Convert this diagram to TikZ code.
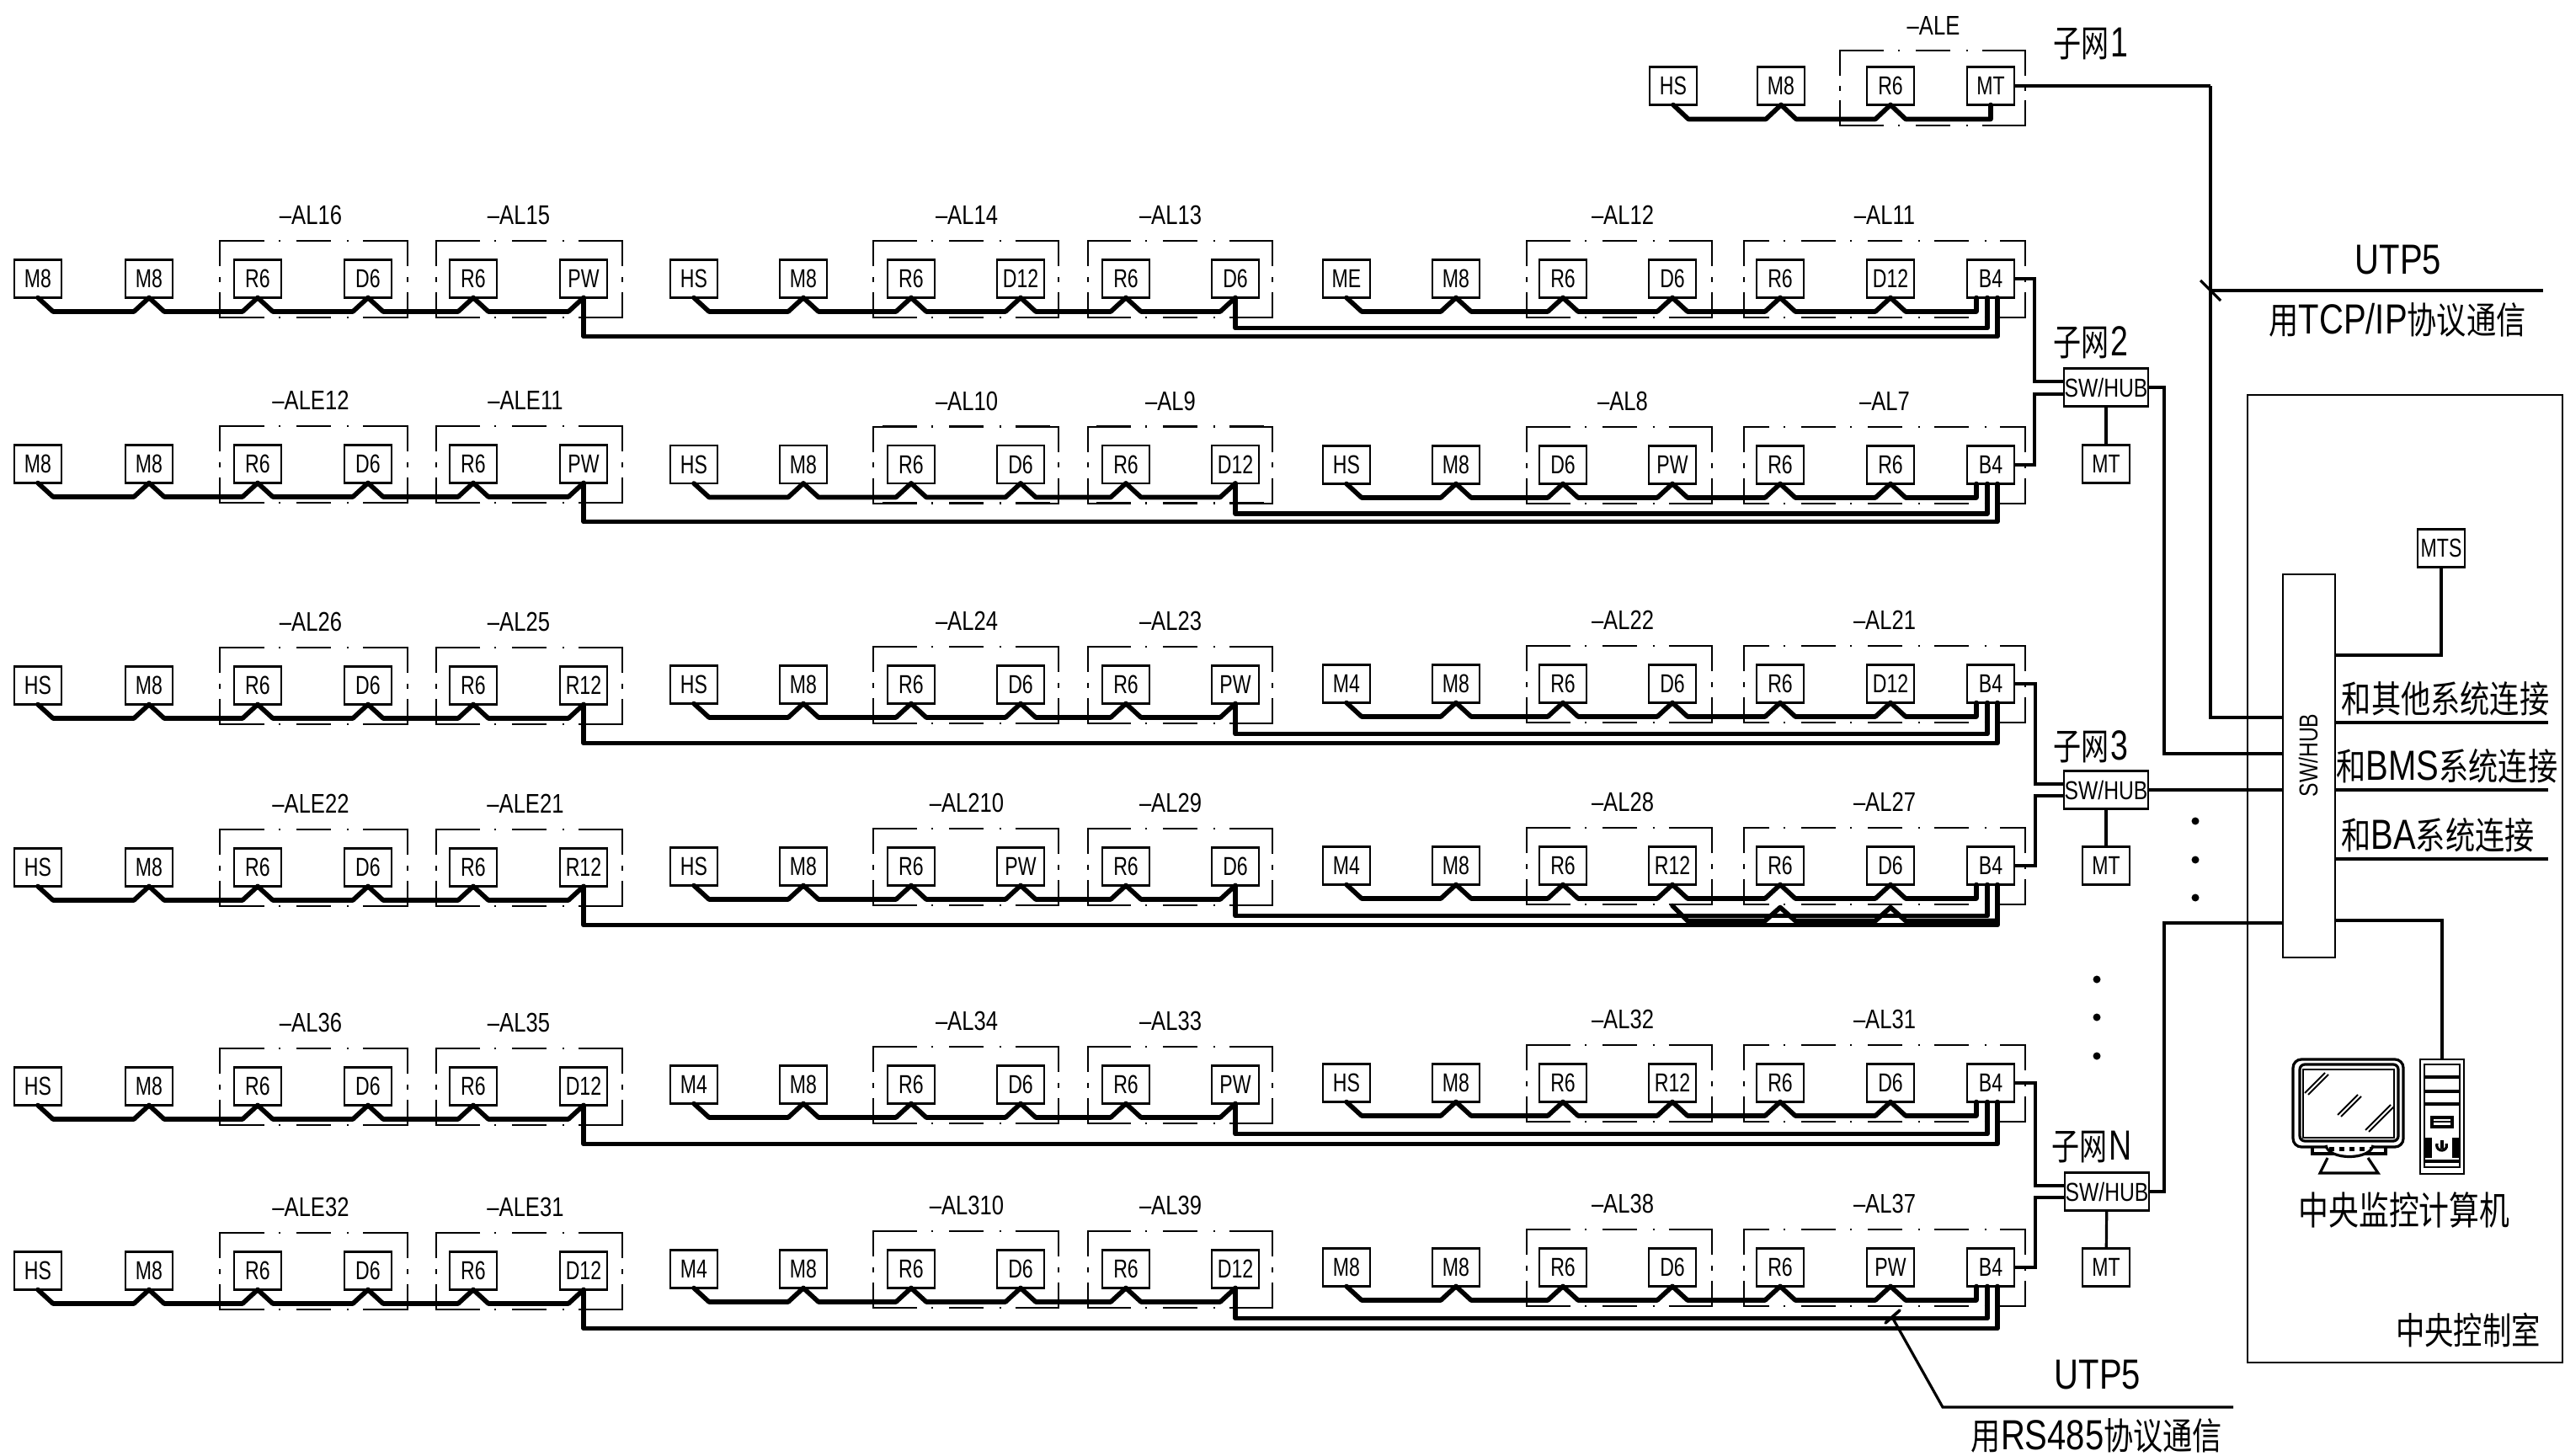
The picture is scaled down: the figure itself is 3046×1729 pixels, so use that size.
\documentclass[tikz,border=0pt]{standalone}
\usepackage{graphicx}
\usepackage{fontspec}
\setmainfont{Liberation Sans}
\newfontfamily\cjf{Noto Sans CJK SC}
\usetikzlibrary{calc}
\newcommand\bx[1]{\scalebox{.75}[1]{\fontsize{15.4}{16}\selectfont #1}}
\newcommand\lb[1]{\scalebox{.8}[1]{\fontsize{16}{17}\selectfont #1}}
\newcommand\bigt[1]{\scalebox{.8}[1]{\fontsize{25}{26}\selectfont #1}}
\newcommand\zh[1]{{\fontsize{22}{26}\cjf #1}}
\tikzset{
 x=0.5pt,y=-0.5pt,
 box/.style={draw,line width=1.3pt,inner sep=0pt,outer sep=0pt,minimum width=28pt,minimum height=22.5pt,anchor=center},
 swbox/.style={box,minimum width=50pt,minimum height=22.5pt},
 wire/.style={line width=2.8pt,line join=round,line cap=round},
 link/.style={line width=1.6pt,line join=miter},
 thinl/.style={line width=1pt},
 gline/.style={line width=1pt},
 gdash/.style={line width=1.3pt,dash pattern=on 20.5pt off 9.5pt on 1pt off 8.5pt,dash phase=10.25pt},
 txt/.style={inner sep=0pt,outer sep=0pt,anchor=center}
}
\newcommand\grp[4]{%
 \pgfmathsetmacro\xm{(#1+#2)/2}\pgfmathsetmacro\ym{(#3+#4)/2}%
 \foreach \yy in {#3,#4}{\foreach \xx in {#1,#2}{\draw[gdash] (\xm,\yy)--(\xx,\yy);}}%
 \draw[gline] (#1+30,#3)--(#1,#3)--(#1,#3+30);
 \draw[gline] (#2-30,#3)--(#2,#3)--(#2,#3+30);
 \draw[gline] (#1+30,#4)--(#1,#4)--(#1,#4-30);
 \draw[gline] (#2-30,#4)--(#2,#4)--(#2,#4-30);
 \fill (#1-1,\ym-3) rectangle (#1+1,\ym+3);
 \fill (#2-1,\ym-3) rectangle (#2+1,\ym+3);
}
% #1 row id, #2 y at right, #3 y at left, #4 A texts, #5 B texts, #6 C texts, #7 labels, #8 x of the second label
\newcommand\rowdef[8]{%
 \pgfmathsetmacro\ya{#3}\pgfmathsetmacro\yb{(#2+#3)/2}\pgfmathsetmacro\yc{#2}%
 \foreach \t [count=\i] in {#4}{\pgfmathsetmacro\xp{{45,177,306,437,562,693}[\i-1]}\node[box] (r#1a\i) at (\xp,\ya) {\bx{\t}};}
 \foreach \t [count=\i] in {#5}{\pgfmathsetmacro\xp{{824,954,1082,1212,1337,1467}[\i-1]}\node[box] (r#1b\i) at (\xp,\yb) {\bx{\t}};}
 \foreach \t [count=\i] in {#6}{\pgfmathsetmacro\xp{{1599,1729,1856,1986,2114,2245,2364}[\i-1]}\node[box] (r#1c\i) at (\xp,\yc) {\bx{\t}};}
 \foreach \t [count=\i] in {#7}{\pgfmathsetmacro\xp{{369,#8,1148,1390,1927,2238}[\i-1]}\pgfmathsetmacro\yl{{\ya,\ya,\yb,\yb,\yc,\yc}[\i-1]-75.5}\node[txt] (r#1l\i) at (\xp,\yl) {\lb{\t}};}
 \grp{261}{484}{\ya-45}{\ya+46}
 \grp{518}{739}{\ya-45}{\ya+46}
 \grp{1037}{1257}{\yb-45}{\yb+46}
 \grp{1292}{1511}{\yb-45}{\yb+46}
 \grp{1813}{2033}{\yc-45}{\yc+46}
 \grp{2071}{2405}{\yc-45}{\yc+46}
 \foreach \i [evaluate=\i as \j using int(\i+1)] in {1,...,5}{
  \draw[wire] (r#1a\i.south)--++(18,16.5)--($(r#1a\j.south)+(-18,16.5)$)--(r#1a\j.south);
  \draw[wire] (r#1b\i.south)--++(18,16.5)--($(r#1b\j.south)+(-18,16.5)$)--(r#1b\j.south);
  \draw[wire] (r#1c\i.south)--++(18,16.5)--($(r#1c\j.south)+(-18,16.5)$)--(r#1c\j.south);
 }
 \draw[wire] (r#1c6.south)--++(18,16.5)-|($(r#1c7.south)+(-17,0)$);
 \draw[wire] (r#1b6.south)--++(0,36)-|($(r#1c7.south)+(-4,0)$);
 \draw[wire] (r#1a6.south)--++(0,46)-|($(r#1c7.south)+(8,0)$);
}
\begin{document}
\begin{tikzpicture}
\useasboundingbox (0,0) rectangle (3046,1729);
\rowdef{1}{331}{331}{M8,M8,R6,D6,R6,PW}{HS,M8,R6,D12,R6,D6}{ME,M8,R6,D6,R6,D12,B4}{–AL16,–AL15,–AL14,–AL13,–AL12,–AL11}{616}
\rowdef{2}{552}{551}{M8,M8,R6,D6,R6,PW}{HS,M8,R6,D6,R6,D12}{HS,M8,D6,PW,R6,R6,B4}{–ALE12,–ALE11,–AL10,–AL9,–AL8,–AL7}{624}
\rowdef{3}{812}{814}{HS,M8,R6,D6,R6,R12}{HS,M8,R6,D6,R6,PW}{M4,M8,R6,D6,R6,D12,B4}{–AL26,–AL25,–AL24,–AL23,–AL22,–AL21}{616}
\rowdef{4}{1028}{1030}{HS,M8,R6,D6,R6,R12}{HS,M8,R6,PW,R6,D6}{M4,M8,R6,R12,R6,D6,B4}{–ALE22,–ALE21,–AL210,–AL29,–AL28,–AL27}{624}
\rowdef{5}{1286}{1290}{HS,M8,R6,D6,R6,D12}{M4,M8,R6,D6,R6,PW}{HS,M8,R6,R12,R6,D6,B4}{–AL36,–AL35,–AL34,–AL33,–AL32,–AL31}{616}
\rowdef{6}{1505}{1509}{HS,M8,R6,D6,R6,D12}{M4,M8,R6,D6,R6,D12}{M8,M8,R6,D6,R6,PW,B4}{–ALE32,–ALE31,–AL310,–AL39,–AL38,–AL37}{624}
% extra humped line in row 4
\draw[wire] ($(r4c4.south)+(0,25)$)--($(r4c4.south)+(18,43)$)--($(r4c5.south)+(-18,43)$)--($(r4c5.south)+(0,27)$)--($(r4c5.south)+(18,43)$)--($(r4c6.south)+(-18,43)$)--($(r4c6.south)+(0,27)$)--($(r4c6.south)+(18,43)$)--($(r4c7.south)+(8,43)$);
% top subnet
\node[box] (t1) at (1987,102) {\bx{HS}};
\node[box] (t2) at (2115,102) {\bx{M8}};
\node[box] (t3) at (2245,102) {\bx{R6}};
\node[box] (t4) at (2364,102) {\bx{MT}};
\node[txt] (tl) at (2296,30) {\lb{–ALE}};
\grp{2185}{2405}{60}{149}
\draw[wire] (t1.south)--++(18,17)--($(t2.south)+(-18,17)$)--(t2.south);
\draw[wire] (t2.south)--++(18,17)--($(t3.south)+(-18,17)$)--(t3.south);
\draw[wire] (t3.south)--++(18,17)-|(t4.south);
% switches
\node[swbox] (sw2) at (2501,460) {\bx{\scalebox{1.07}[1]{SW/HUB}}};
\node[swbox] (sw3) at (2501,938) {\bx{\scalebox{1.07}[1]{SW/HUB}}};
\node[swbox] (swn) at (2502,1415) {\bx{\scalebox{1.07}[1]{SW/HUB}}};
\node[box] (mt2) at (2501,551) {\bx{MT}};
\node[box] (mt3) at (2501,1028) {\bx{MT}};
\node[box] (mtn) at (2501,1505) {\bx{MT}};
\node[box,minimum width=31pt,minimum height=227.5pt] (hub) at (2742,909.5) {};
\node[txt,rotate=90] (hubt) at (2741,897) {\bx{\scalebox{1.07}[1]{SW/HUB}}};
\node[box] (mts) at (2899,651) {\bx{MTS}};
\draw[link] (r1c7.east)--++(24,0)|-($(sw2.west)+(0,-7)$);
\draw[link] (r2c7.east)--++(24,0)|-($(sw2.west)+(0,8)$);
\draw[link] (r3c7.east)--++(25,0)|-($(sw3.west)+(0,-7)$);
\draw[link] (r4c7.east)--++(25,0)|-($(sw3.west)+(0,7)$);
\draw[link] (r5c7.east)--++(25,0)|-($(swn.west)+(0,-7)$);
\draw[link] (r6c7.east)--++(25,0)|-($(swn.west)+(0,7)$);
\draw[link] (sw2)--(mt2);
\draw[link] (sw3)--(mt3);
\draw[link] (swn)--(mtn);
\draw[link] (sw2.east)--++(19,0)|-($(hub.west)+(0,-14.5)$);
\draw[link] (sw3.east)--(hub.west|-sw3.east);
\draw[link] (swn.east)--++(18,0)|-($(hub.west)+(0,186.5)$);
\coordinate (tb) at (2625,102);
\draw[link,line width=2.2pt] (t4.east)--(tb);
\draw[link] (tb)|-($(hub.west)+(0,-57.5)$);
\draw[link] ($(hub.east)+(0,-131.5)$)-|(mts.south);
% tower as node
\node[box,minimum width=26pt,minimum height=68pt] (tower) at (2900,1326) {};
\draw[link] ($(hub.east)+(0,183.5)$)-|(tower.north);
% system lines
\coordinate (sa) at (3026,858);
\coordinate (sb) at (3026,938);
\coordinate (sc) at (3026,1020);
\draw[link] (hub.east|-sa)--(sa);
\draw[link] (hub.east|-sb)--(sb);
\draw[link] (hub.east|-sc)--(sc);
\node[txt] (ta) at (2904,830) {\scalebox{.8}[1]{\zh{和其他系统连接}}};
\node[txt] (tb2) at (2906,910) {\scalebox{.8}[1]{\zh{和}\fontsize{25}{26}\selectfont BMS\zh{系统连接}}};
\node[txt] (tc) at (2895,992) {\scalebox{.8}[1]{\zh{和}\fontsize{25}{26}\selectfont BA\zh{系统连接}}};
% room
\draw[thinl] (2669,469) rectangle (3043,1618);
\node[txt] (room1) at (2855,1437) {\scalebox{.78}[1]{\fontsize{23}{26}\cjf 中央监控计算机}};
\node[txt] (room2) at (2931,1580) {\scalebox{.78}[1]{\fontsize{22}{26}\cjf 中央控制室}};
% subnet names
\node[txt] (n1) at (2483,52) {\scalebox{.75}[1]{\zh{子网}\,\fontsize{25}{26}\selectfont 1}};
\node[txt] (n2) at (2483,407) {\scalebox{.75}[1]{\zh{子网}\,\fontsize{25}{26}\selectfont 2}};
\node[txt] (n3) at (2483,887) {\scalebox{.75}[1]{\zh{子网}\,\fontsize{25}{26}\selectfont 3}};
\node[txt] (nn) at (2484,1362) {\scalebox{.75}[1]{\zh{子网}\,\fontsize{25}{26}\selectfont N}};
% dots
\foreach \yy in {975,1021,1066}{\fill (2607,\yy) circle[radius=4.5];}
\foreach \yy in {1163,1208,1254}{\fill (2490,\yy) circle[radius=4.5];}
% TCP leader
\coordinate (ua) at (2625,345);
\coordinate (ub) at (3020,345);
\draw[link] (ua)--(ub);
\draw[link] (2613,333)--(2637,357);
\node[txt] (u1) at (2848,309) {\bigt{UTP5}};
\node[txt] (u2) at (2847,380) {\scalebox{.8}[1]{\zh{用}\fontsize{25}{26}\selectfont TCP/IP\zh{协议通信}}};
% RS485 leader
\coordinate (ra) at (2248,1566);
\coordinate (rb) at (2307,1671);
\coordinate (rc) at (2652,1671);
\draw[link] (ra)--(rb)--(rc);
\draw[wire,line width=1.8pt] (2239,1571)--(2256,1556);
\node[txt] (u3) at (2491,1633) {\bigt{UTP5}};
\node[txt] (u4) at (2490,1705) {\scalebox{.8}[1]{\zh{用}\fontsize{25}{26}\selectfont RS485\zh{协议通信}}};
% monitor
\draw[link,rounded corners=5pt] (2723,1258) rectangle (2854,1362);
\draw[link,rounded corners=3pt] (2731,1264) rectangle (2848,1355);
\draw[thinl] (2735,1270) rectangle (2843,1351);
\foreach \xa/\ya/\xb/\yb in {2737/1298/2761/1274,2741/1300/2765/1276,2776/1324/2800/1300,2780/1326/2804/1302,2809/1342/2839/1312,2813/1344/2843/1314}{\draw[thinl] (\xa,\ya)--(\xb,\yb);}
\draw[link] (2746,1362)--(2746,1370)--(2833,1370)--(2833,1362);
\draw[link,fill=white] (2762,1360) .. controls (2765,1378) and (2815,1378) .. (2818,1360);
\draw[line width=2.5pt,dash pattern=on 3pt off 3pt] (2766,1364)--(2816,1364);
\draw[link] (2764,1375)--(2755,1393)--(2824,1393)--(2812,1375);
% tower details
\draw[thinl] (2879,1264) rectangle (2921,1386);
\foreach \yy in {1279,1296,1311}{\draw[link] (2879,\yy)--(2921,\yy);}
\draw[link] (2888,1327) rectangle (2912,1338);
\draw[thinl] (2888,1332)--(2912,1332);
\fill (2879,1351) rectangle (2888,1375);
\fill (2912,1351) rectangle (2921,1375);
\draw[link] (2879,1379)--(2921,1379);
\draw[link] (2894,1358) arc[start angle=200,end angle=-20,radius=6];
\draw[link] (2900,1354)--(2900,1364);
\end{tikzpicture}
\end{document}
